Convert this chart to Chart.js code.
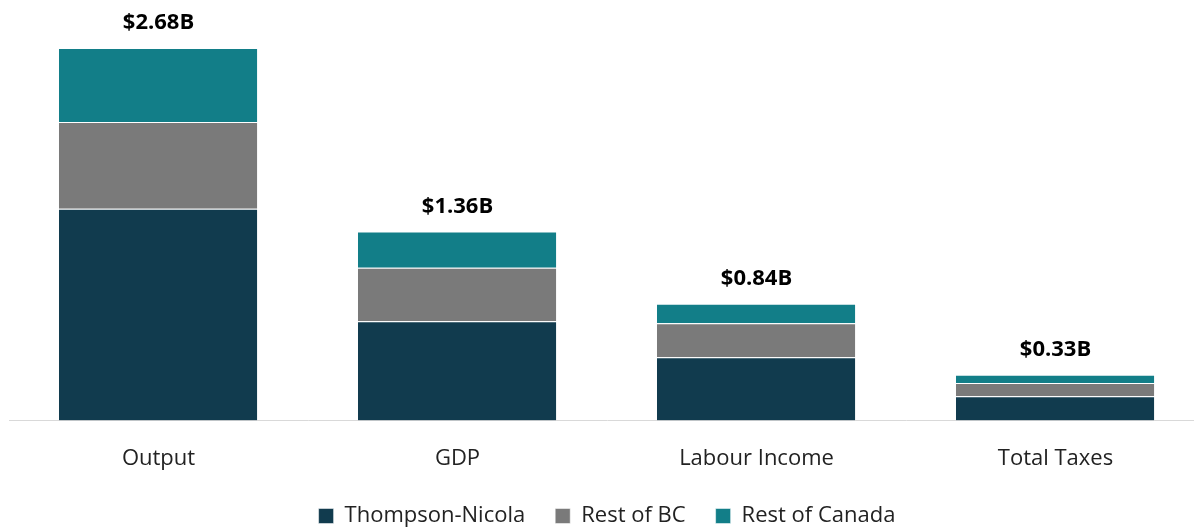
<!DOCTYPE html>
<html>
<head>
<meta charset="utf-8">
<script src="https://cdn.jsdelivr.net/npm/chart.js@4.4.1/dist/chart.umd.min.js"></script>
<style>
    html, body { margin: 0; padding: 0; background: #fff; overflow: hidden; height: 527px; }
    .wrap { width: 1206px; height: 537px; position: relative; }
</style>
</head>
<body>
<div class="wrap"><canvas id="impactChart"></canvas></div>
<script>
const categories = ['Output', 'GDP', 'Labour Income', 'Total Taxes'];
const thompsonNicola = [1.523, 0.715, 0.456, 0.175];
const restOfBC = [0.625, 0.385, 0.244, 0.095];
const restOfCanada = [0.532, 0.26, 0.14, 0.06];

const FONT = '"Open Sans", "Noto Sans", sans-serif';

// writes the stack total above each bar
const totalsPlugin = {
    id: 'stackTotals',
    afterDatasetsDraw(chart) {
        const ctx = chart.ctx;
        const top = chart.getDatasetMeta(chart.data.datasets.length - 1);
        ctx.save();
        ctx.font = `bold 22px ${FONT}`;
        ctx.fillStyle = '#000';
        ctx.textAlign = 'center';
        ctx.textBaseline = 'middle';
        top.data.forEach((bar, i) => {
            const total = chart.data.datasets.reduce((sum, ds) => sum + ds.data[i], 0);
            ctx.fillText(`$${total.toFixed(2)}B`, bar.x, bar.y - 25);
        });
        ctx.restore();
    },
};

new Chart(document.getElementById('impactChart'), {
    type: 'bar',
    data: {
        labels: categories,
        datasets: [
            { label: 'Thompson-Nicola', data: thompsonNicola, backgroundColor: '#113b4e' },
            { label: 'Rest of BC', data: restOfBC, backgroundColor: '#7a7a7a' },
            { label: 'Rest of Canada', data: restOfCanada, backgroundColor: '#127e88' },
        ],
    },
    options: {
        responsive: true,
        maintainAspectRatio: false,
        animation: false,
        layout: { padding: { left: 9, right: 1, top: 0, bottom: 0 } },
        datasets: {
            bar: {
                categoryPercentage: 1,
                barPercentage: 0.666,
                borderColor: '#ffffff',
                borderWidth: { top: 1, bottom: 0, left: 0, right: 1 },
                borderSkipped: false,
            },
        },
        scales: {
            x: {
                stacked: true,
                grid: { display: false },
                border: { display: true, color: '#d9d9d9', width: 1 },
                ticks: { color: '#222', font: { family: FONT, size: 22 }, padding: 17 },
                afterFit(scale) {
                    // tighter gap between axis labels and legend
                    scale.height -= 14;
                },
            },
            y: {
                stacked: true,
                display: false,
                min: 0,
                max: 3.025,
            },
        },
        plugins: {
            legend: {
                position: 'bottom',
                labels: {
                    color: '#222',
                    font: { family: FONT, size: 22 },
                    boxWidth: 15,
                    boxHeight: 15,
                    padding: 30,
                },
            },
            tooltip: { enabled: false },
        },
    },
    plugins: [totalsPlugin],
});
</script>
</body>
</html>
